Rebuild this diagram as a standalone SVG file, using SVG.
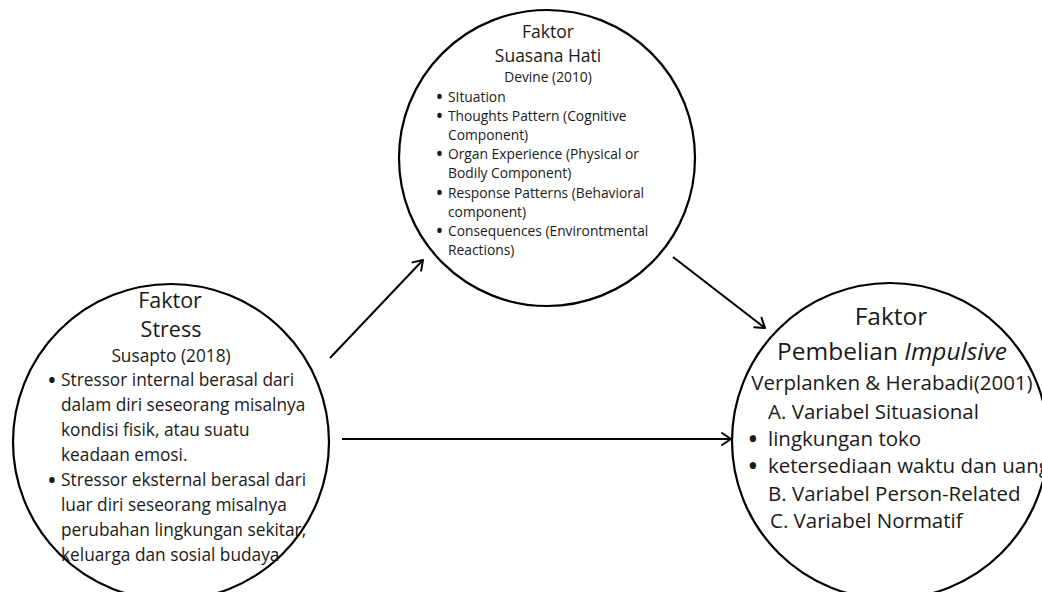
<svg xmlns="http://www.w3.org/2000/svg" width="1042" height="592" viewBox="0 0 1042 592">
<defs>
<style>
.c{fill:#fff;stroke:#000;stroke-width:2.2}
text{font-family:"Open Sans","DejaVu Sans",sans-serif;fill:#1a1a1a}
.t1{font-size:17.5px;text-anchor:middle}
.s1{font-size:13.8px}
.t2{font-size:21.5px;text-anchor:middle}
.s2{font-size:17.3px}
.t3{font-size:24.5px;text-anchor:middle}
.s3{font-size:20.5px}
.m{text-anchor:middle}
.b1{font-size:21px;text-anchor:middle}
.b2{font-size:26px;text-anchor:middle}
.b3{font-size:30px;text-anchor:middle}
.e{stroke:#000;stroke-width:2;fill:none}
</style>
<marker id="a" markerUnits="userSpaceOnUse" markerWidth="16" markerHeight="16" viewBox="0 0 16 16" refX="13" refY="8" orient="auto">
<path d="M4,2 L13,8 L4,14" fill="none" stroke="#000" stroke-width="2" stroke-linecap="round" stroke-linejoin="round"/>
</marker>
</defs>
<rect width="1042" height="592" fill="#fff"/>
<g id="connectors">
<line class="e" x1="330" y1="358" x2="423" y2="260" marker-end="url(#a)"/>
<line class="e" x1="673" y1="257" x2="765" y2="328" marker-end="url(#a)"/>
<line class="e" x1="342" y1="439" x2="731" y2="439" marker-end="url(#a)"/>
</g>
<g id="suasana">
<circle class="c" cx="547" cy="158" r="148"/>
<text class="t1" x="548" y="38">Faktor</text>
<text class="t1" x="548" y="62">Suasana Hati</text>
<text class="s1 m" x="548" y="82">Devine (2010)</text>
<g class="s1">
<text class="b1" x="439.5" y="103.5">•</text><text x="448" y="101.5">SItuation</text>
<text class="b1" x="439.5" y="122.7">•</text><text x="448" y="120.7">Thoughts Pattern (Cognitive</text>
<text x="448" y="139.9">Component)</text>
<text class="b1" x="439.5" y="161.1">•</text><text x="448" y="159.1">Organ Experience (Physical or</text>
<text x="448" y="178.3">Bodily Component)</text>
<text class="b1" x="439.5" y="199.5">•</text><text x="448" y="197.5">Response Patterns (Behavioral</text>
<text x="448" y="216.7">component)</text>
<text class="b1" x="439.5" y="237.9">•</text><text x="448" y="235.9">Consequences (Environtmental</text>
<text x="448" y="255.1">Reactions)</text>
</g>
</g>
<g id="stress">
<circle class="c" cx="171" cy="442" r="158"/>
<text class="t2" x="170" y="308">Faktor</text>
<text class="t2" x="171" y="337">Stress</text>
<text class="s2 m" x="171" y="362">Susapto (2018)</text>
<g class="s2">
<text class="b2" x="52" y="388.5">•</text><text x="61" y="386">Stressor internal berasal dari</text>
<text x="61" y="411">dalam diri seseorang misalnya</text>
<text x="61" y="436">kondisi fisik, atau suatu</text>
<text x="61" y="461">keadaan emosi.</text>
<text class="b2" x="52" y="488.5">•</text><text x="61" y="486">Stressor eksternal berasal dari</text>
<text x="61" y="511">luar diri seseorang misalnya</text>
<text x="61" y="536">perubahan lingkungan sekitar,</text>
<text x="61" y="561">keluarga dan sosial budaya</text>
</g>
</g>
<g id="pembelian">
<circle class="c" cx="890" cy="441" r="158"/>
<text class="t3" x="891" y="325">Faktor</text>
<text class="t3" x="892" y="360">Pembelian <tspan font-style="italic">Impulsive</tspan></text>
<text class="s3 m" x="892" y="390">Verplanken &amp; Herabadi(2001)</text>
<g class="s3">
<text x="768" y="419">A. Variabel Situasional</text>
<text class="b3" x="753" y="449">•</text><text x="768" y="446">lingkungan toko</text>
<text class="b3" x="753" y="476">•</text><text x="768" y="473">ketersediaan waktu dan uang</text>
<text x="768" y="501">B. Variabel Person-Related</text>
<text x="770" y="528">C. Variabel Normatif</text>
</g>
</g>
</svg>
